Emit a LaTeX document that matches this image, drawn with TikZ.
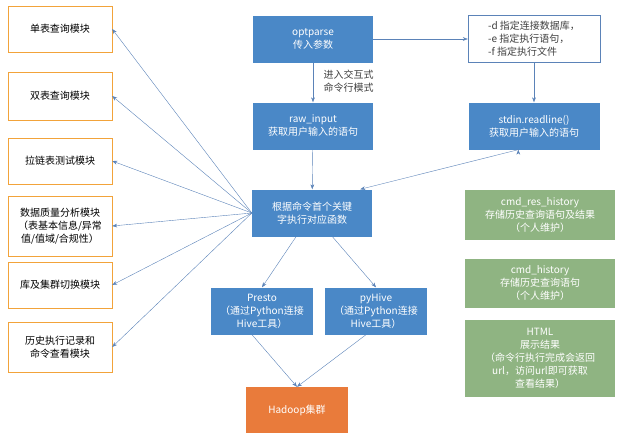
\documentclass[tikz,border=0pt]{standalone}
\usepackage{fontspec}
\setmainfont{Liberation Serif}
\newfontfamily\cjk{Noto Sans CJK SC}
\usetikzlibrary{arrows.meta}
\definecolor{bl}{HTML}{4A88C7}
\definecolor{ln}{HTML}{5B83B8}
\definecolor{orb}{HTML}{F2A33A}
\definecolor{hd}{HTML}{E97B3B}
\definecolor{gr}{HTML}{8FB482}
\begin{document}
\begin{tikzpicture}[x=1pt,y=-1pt,font=\cjk\fontsize{10}{13}\selectfont,
 lbox/.style={draw=orb,fill=white,minimum width=104pt,align=center,text=black},
 bbox/.style={fill=bl,text=white,minimum width=120pt,minimum height=47pt,align=center},
 pbox/.style={fill=bl,text=white,minimum width=102pt,minimum height=47pt,align=center},
 gbox/.style={fill=gr,text=white,minimum width=150pt,align=center},
 arr/.style={draw=ln,-{Stealth[length=5pt]}}]
\useasboundingbox (0,0) rectangle (621,440);
\node[lbox,minimum height=46pt] (l1) at (60,29) {单表查询模块};
\node[lbox,minimum height=48pt] (l2) at (60,96) {双表查询模块};
\node[lbox,minimum height=46pt] (l3) at (60,161) {拉链表测试模块};
\node[lbox,minimum height=60pt] (l4) at (60,226) {数据质量分析模块\\（表基本信息/异常\\值/值域/合规性）};
\node[lbox,minimum height=46pt] (l5) at (60,285) {库及集群切换模块};
\node[lbox,minimum height=50pt] (l6) at (60,347) {历史执行记录和\\命令查看模块};
\node[bbox] (opt) at (313,39) {optparse\\传入参数};
\node[bbox] (raw) at (313,126) {raw\_input\\获取用户输入的语句};
\node[draw=ln,fill=white,minimum width=132pt,minimum height=47pt,align=left,text=black!75] (d) at (534,39) {-d 指定连接数据库，\\-e 指定执行语句，\\-f 指定执行文件};
\node[bbox,minimum width=131pt] (std) at (534,126) {stdin.readline()\\获取用户输入的语句};
\node[bbox] (main) at (312,213) {根据命令首个关键\\字执行对应函数};
\node[pbox] (pr) at (262,311) {Presto\\（通过Python连接\\Hive工具）};
\node[pbox] (py) at (376,311) {pyHive\\（通过Python连接\\Hive工具）};
\node[fill=hd,text=white,minimum width=102pt,minimum height=46pt] (hd) at (297,410) {Hadoop集群};
\node[gbox,minimum height=50pt] (g1) at (540,215) {cmd\_res\_history\\存储历史查询语句及结果\\（个人维护）};
\node[gbox,minimum height=49pt] (g2) at (540,283) {cmd\_history\\存储历史查询语句\\（个人维护）};
\node[gbox,minimum height=77pt] (g3) at (540,358) {HTML\\展示结果\\（命令行执行完成会返回\\url，访问url即可获取\\查看结果）};
\node[align=left,anchor=west,text=black!75] (lab) at (320,81) {进入交互式\\命令行模式};
\draw[arr] (opt) -- (raw);
\draw[arr] (opt) -- (d);
\draw[arr] (d) -- (std);
\draw[arr] (raw) -- (main);
\draw[arr] (std.south west) ++(50,0) coordinate (s0);
\draw[arr] (s0) -- ([xshift=-12pt]main.north east);
\foreach \n in {l1,l2,l3,l4,l5,l6} \draw[arr] (main.west) -- (\n.east);
\draw[arr] (main) -- (pr.north);
\draw[arr] (main) -- (py.north);
\draw[arr] ([xshift=-10pt]pr.south) -- (hd.north);
\draw[arr] ([xshift=-10pt]py.south) -- (hd.north);
\end{tikzpicture}
\end{document}
